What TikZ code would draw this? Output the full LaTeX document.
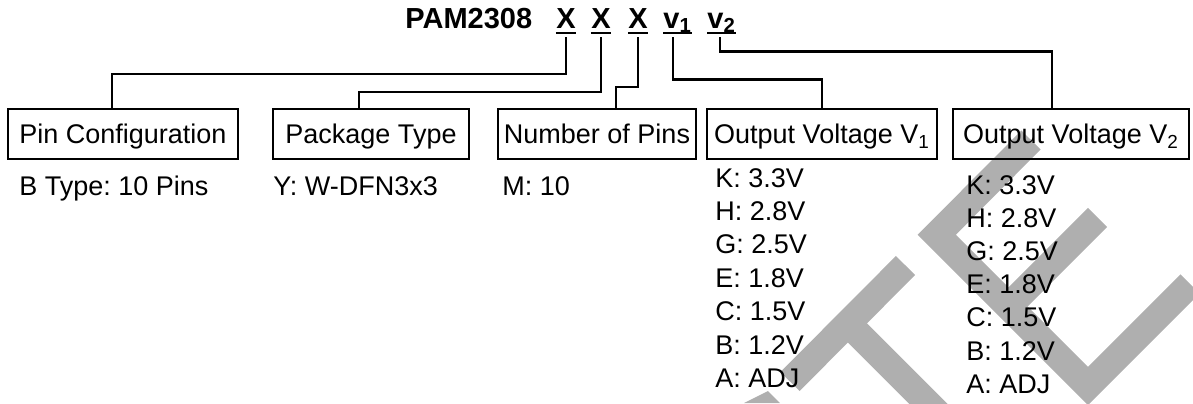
\documentclass[tikz,border=0pt]{standalone}
\usepackage{fontspec}
\setmainfont{Liberation Sans}
\usepackage{tikz}
\usepackage{xcolor}
\frenchspacing
\definecolor{wmgray}{RGB}{175,175,175}
\tikzset{fieldbox/.style={draw, line width=1.2pt, inner sep=0pt, minimum height=25pt, text height=9.7pt, text depth=0pt}}
\tikzset{wire/.style={line width=1.2pt}}
\tikzset{uline/.style={line width=0.9pt}}
\tikzset{codechar/.style={inner sep=0pt, anchor=base, font=\fontsize{14.5pt}{17pt}\selectfont\bfseries}}
\tikzset{item/.style={inner sep=0pt, anchor=base west}}
\tikzset{wmark/.style={draw=wmgray, line width=13.5pt, line join=miter}}

\begin{document}
\begin{tikzpicture}[x=0.5pt, y=-0.5pt, font=\fontsize{13.5pt}{16pt}\selectfont]
    \useasboundingbox (0,0) rectangle (1193,403);
    % watermark
    \begin{scope}
        \clip (0,0) rectangle (1193,403);
        \draw[wmark] (790,381.5) -- (905.5,265.5);
        \draw[wmark] (847.75,323.25) -- ++(100,100);
        \fill[wmgray] (744,403) -- (768,391) -- (780,403) -- cycle;
        \draw[wmark] (1031,140) -- (936.75,234.75) -- (1088,386) -- (1190,284);
        \draw[wmark] (1008.5,306.5) -- (1097.5,217.5);
    \end{scope}

    \node[codechar, anchor=base west] (part) at (405,28.3) {PAM2308};
    \node[codechar] (xa) at (566,28.3) {X};
    \node[codechar] (xb) at (601,28.3) {X};
    \node[codechar] (xc) at (638,28.3) {X};
    \node[codechar, anchor=base west] (va) at (663,28.3) {v\textsubscript{1}};
    \node[codechar, anchor=base west] (vb) at (707,28.3) {v\textsubscript{2}};
    \foreach \n in {xa, xb, xc, va, vb}
        \draw[uline] ([yshift=-2.5pt]\n.base west) -- ([yshift=-2.5pt]\n.base east);

    \node[fieldbox, minimum width=115pt] (pin) at (123,134) {Pin Configuration};
    \node[fieldbox, minimum width=98pt] (pkg) at (371,134) {Package Type};
    \node[fieldbox, minimum width=99pt] (npin) at (597,134) {Number of Pins};
    \node[fieldbox, minimum width=115pt] (vone) at (822,134) {Output Voltage V\textsubscript{1}};
    \node[fieldbox, minimum width=118pt] (vtwo) at (1071,134) {Output Voltage V\textsubscript{2}};

    \draw[wire] ([yshift=-4.5pt]xa.base) -- (xa |- 0,74) -| ([xshift=-5.5pt]pin.north);
    \draw[wire] ([yshift=-4.5pt]xb.base) -- (xb |- 0,92) -| ([xshift=-6pt]pkg.north);
    \draw[wire] ([yshift=-4.5pt]xc.base) -- (xc |- 0,87) -| ([xshift=9.5pt]npin.north);
    \draw[wire] ([shift={(5pt,-4.5pt)}]va.base west) -- ++(0,42) -| (vone.north);
    \draw[wire] ([shift={(6.5pt,-4.5pt)}]vb.base west) -- ++(0,14) -| ([xshift=-9.5pt]vtwo.north);

    \node[item] (pinval) at (19,195) {B Type: 10 Pins};
    \node[item] (pkgval) at (273,195) {Y: W-DFN3x3};
    \node[item] (npinval) at (502,195) {M: 10};
    \foreach \volt [count=\i from 0] in {K: 3.3V, H: 2.8V, G: 2.5V, E: 1.8V, C: 1.5V, B: 1.2V, A: ADJ} {
        \node[item] (vonesel\i) at (715,187+33.4*\i) {\volt};
        \node[item] (vtwosel\i) at (966,194+33.2*\i) {\volt};
    }
\end{tikzpicture}
\end{document}
